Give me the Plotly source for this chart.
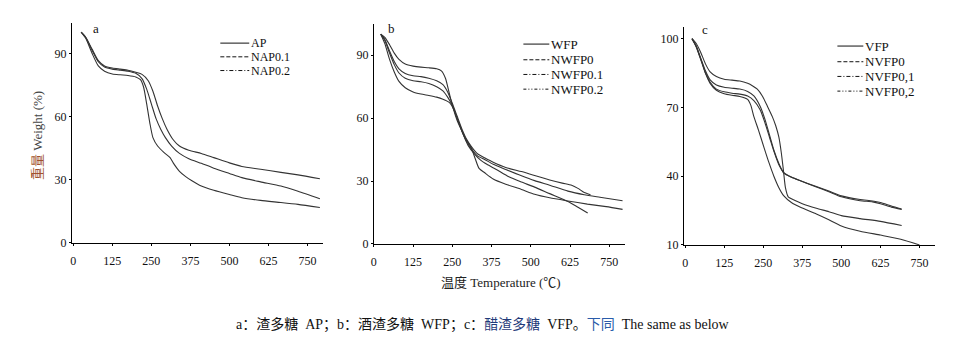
import plotly.graph_objects as go

# ---------------- data ----------------
# Panel a
a_names = ["AP", "NAP0.1", "NAP0.2"]
a_AP_x = [25, 40, 60, 80, 100, 125, 150, 175, 200, 215, 225, 235, 245, 255, 270, 290, 310, 320, 340, 360, 380, 410, 450, 500, 540, 600, 665, 720, 790]
a_AP_y = [100, 97, 90, 84, 81.5, 80.2, 79.8, 79.5, 78.8, 77.5, 74, 66, 57, 50, 46, 43, 40.5, 38, 34, 31.5, 29.5, 27, 25, 23, 21.5, 20.2, 19.2, 18.3, 16.8]
a_NAP01_x = [25, 40, 60, 80, 100, 125, 150, 175, 200, 220, 235, 250, 265, 280, 295, 315, 340, 370, 410, 450, 500, 540, 600, 665, 720, 790]
a_NAP01_y = [100, 97.5, 91.5, 86, 83.5, 82.5, 82, 81.5, 80.5, 78, 73, 66, 59, 54, 50, 46, 42.5, 40, 37.8, 35.5, 33, 31, 29, 27, 24.5, 21]
a_NAP02_x = [25, 40, 60, 80, 100, 125, 150, 175, 200, 220, 240, 255, 270, 285, 300, 320, 340, 370, 410, 450, 500, 540, 600, 665, 720, 790]
a_NAP02_y = [100, 97.5, 92, 86.5, 84, 83, 82.5, 82, 81, 80, 77, 72, 65, 59, 54, 49, 46, 44, 42.5, 40.5, 38, 36.3, 35, 33.5, 32.3, 30.5]

# Panel b
b_names = ["WFP", "NWFP0", "NWFP0.1", "NWFP0.2"]
b_WFP_x = [22, 35, 50, 65, 80, 100, 125, 150, 175, 200, 215, 228, 240, 252, 265, 280, 295, 310, 322, 335, 354, 380, 420, 470, 512, 560, 618, 680, 740, 792]
b_WFP_y = [100, 98.5, 95, 91, 88, 85.8, 84.8, 84.3, 84, 83.5, 82.5, 79, 72, 65, 59, 54, 49.5, 46, 41, 36, 33.8, 31, 28.5, 26, 23.7, 22, 20.5, 19, 17.8, 16.5]
b_NWFP0_x = [22, 35, 50, 65, 80, 100, 125, 150, 175, 200, 220, 235, 250, 265, 280, 295, 310, 330, 354, 380, 420, 470, 512, 560, 600, 630, 650, 670, 690]
b_NWFP0_y = [100, 97.5, 92, 87, 83.5, 81.3, 80.2, 79.8, 79, 77.8, 76, 72.5, 67, 61, 55, 50, 46.5, 43, 41, 39, 36.5, 34.5, 32.6, 30.5, 29, 28, 26.5, 24.5, 23.5]
b_NWFP01_x = [22, 35, 50, 65, 80, 100, 125, 150, 175, 200, 220, 235, 250, 265, 280, 295, 310, 330, 354, 380, 420, 470, 512, 560, 618, 670, 720, 792]
b_NWFP01_y = [100, 97, 91, 85.5, 81.5, 79, 77.8, 77.3, 76.5, 75, 73, 70, 66, 60, 54, 49, 45.5, 42, 40.2, 38, 35.5, 32.5, 30.2, 28, 25.2, 23.5, 22.3, 20.6]
b_NWFP02_x = [22, 35, 50, 65, 80, 100, 125, 150, 175, 200, 220, 240, 255, 270, 285, 300, 320, 340, 360, 390, 430, 470, 512, 560, 618, 650, 681]
b_NWFP02_y = [100, 95.5, 88, 82, 77.5, 74.5, 72.5, 71.5, 70.8, 70, 69, 67.5, 64, 58, 52, 47, 43, 40, 38, 35.5, 32, 29.5, 27.1, 24, 20.3, 17.5, 14.8]

# Panel c
c_names = ["VFP", "NVFP0", "NVFP0,1", "NVFP0,2"]
c_VFP_x = [22, 35, 50, 65, 80, 100, 125, 150, 175, 200, 210, 220, 235, 252, 268, 284, 300, 316, 340, 369, 420, 460, 500, 560, 625, 690, 750]
c_VFP_y = [100, 96.5, 91, 85, 80.5, 77.5, 76, 75.3, 74.8, 73.5, 71, 66, 60, 52.7, 46, 40, 35, 31.4, 28.5, 26.4, 23.5, 21, 18.3, 16, 14.3, 12.5, 10]
c_NVFP0_x = [22, 35, 50, 65, 80, 100, 125, 150, 175, 200, 215, 231, 247, 263, 279, 290, 300, 308, 315, 321, 330, 350, 375, 420, 460, 500, 560, 625, 693]
c_NVFP0_y = [100, 98, 94, 89, 85.5, 83.5, 82.3, 81.9, 81.5, 80.5, 79.5, 78, 75, 70.6, 66, 62, 57, 50, 42, 35, 31, 29.5, 28, 26, 24.5, 22.8, 21.5, 20.3, 18.5]
c_NVFP01_x = [22, 35, 50, 65, 80, 100, 125, 150, 175, 200, 220, 240, 255, 270, 285, 300, 316, 340, 369, 420, 460, 500, 560, 600, 625, 660, 693]
c_NVFP01_y = [100, 97, 91.5, 86, 82, 79.8, 78.8, 78.4, 78, 77, 75, 70.5, 65, 58, 51, 45.5, 41.3, 39.5, 38, 35.5, 33.5, 31.4, 29.8, 29.2, 28.5, 27, 25.7]
c_NVFP02_x = [22, 35, 50, 65, 80, 100, 125, 150, 175, 200, 220, 240, 255, 270, 285, 300, 316, 340, 369, 420, 460, 500, 560, 600, 625, 660, 693]
c_NVFP02_y = [100, 96.8, 91, 85, 81, 78, 76.8, 76.2, 75.8, 75, 73, 69, 63.5, 57, 50.5, 45, 41.5, 39.6, 38, 35.3, 33.2, 31, 29.3, 28.8, 28, 26.5, 25.5]

x_ticks = [0, 125, 250, 375, 500, 625, 750]
ab_y_ticks = [0, 30, 60, 90]
c_y_ticks = [10, 40, 70, 100]
legend_dashes_3 = ["solid", "4px,2px", "4px,2px,1px,2px"]
legend_dashes_4 = ["solid", "4px,2px", "4px,2px,1px,2px", "3px,2px,1px,2px,1px,2px"]

# ---------------- figure ----------------
W, H = 968, 346
FONT = "Liberation Serif, Times New Roman, Noto Sans CJK SC, serif"
LINE = "#333333"

def px(x):
    return x / W

def py(y):
    return 1 - y / H

fig = go.Figure()

panels = [
    ("x", "y", [(a_AP_x, a_AP_y), (a_NAP01_x, a_NAP01_y), (a_NAP02_x, a_NAP02_y)], a_names),
    ("x2", "y2", [(b_WFP_x, b_WFP_y), (b_NWFP0_x, b_NWFP0_y), (b_NWFP01_x, b_NWFP01_y), (b_NWFP02_x, b_NWFP02_y)], b_names),
    ("x3", "y3", [(c_VFP_x, c_VFP_y), (c_NVFP0_x, c_NVFP0_y), (c_NVFP01_x, c_NVFP01_y), (c_NVFP02_x, c_NVFP02_y)], c_names),
]
for xa, ya, series, names in panels:
    for (xs, ys), nm in zip(series, names):
        fig.add_trace(go.Scatter(x=xs, y=ys, mode="lines", name=nm, xaxis=xa, yaxis=ya,
                                 line=dict(color=LINE, width=1.1, shape="spline", smoothing=0.6),
                                 showlegend=False, hoverinfo="skip"))

axis_common = dict(showgrid=False, zeroline=False, showline=True, linecolor="#000", linewidth=1,
                   ticks="outside", ticklen=2, tickcolor="#000",
                   tickfont=dict(family=FONT, size=12, color="#111"))
x_extra = dict(ticklabelstandoff=5)

fig.update_layout(
    width=W, height=H, margin=dict(l=0, r=0, t=0, b=0),
    paper_bgcolor="white", plot_bgcolor="white", showlegend=False,
    xaxis=dict(domain=[px(69), px(321)], range=[-5, 800], tickvals=x_ticks, anchor="y", **axis_common, **x_extra),
    yaxis=dict(domain=[py(248), py(23)], range=[0, 104.6], tickvals=ab_y_ticks, anchor="x", **axis_common),
    xaxis2=dict(domain=[px(372), px(624)], range=[0, 800], tickvals=x_ticks, anchor="y2", **axis_common, **x_extra),
    yaxis2=dict(domain=[py(249), py(24)], range=[0, 105.1], tickvals=ab_y_ticks, anchor="x2", **axis_common),
    xaxis3=dict(domain=[px(683), px(935)], range=[-4, 800], tickvals=x_ticks, anchor="y3", **axis_common, **x_extra),
    yaxis3=dict(domain=[py(250), py(28)], range=[10, 104.9], tickvals=c_y_ticks, anchor="x3", **axis_common),
)

annotations = []
shapes = []

# panel letters
for letter, lx, ly in [("a", 93, 29), ("b", 390, 29), ("c", 704, 30)]:
    annotations.append(dict(text=letter, x=px(lx), y=py(ly), xref="paper", yref="paper",
                            showarrow=False, xanchor="center", yanchor="middle",
                            font=dict(family=FONT, size=13, color="#111")))

# legends (drawn as line samples + labels)
legend_specs = [
    (a_names, legend_dashes_3, 218, 247, [44, 58, 72], 12),
    (b_names, legend_dashes_4, 522, 548, [45, 61, 76, 91], 13),
    (c_names, legend_dashes_4, 837, 863, [47, 63, 78, 93], 13),
]
for names, dashes, x0, x1, rows, fs in legend_specs:
    for nm, dsh, ry in zip(names, dashes, rows):
        shapes.append(dict(type="line", xref="paper", yref="paper", x0=px(x0), x1=px(x1),
                           y0=py(ry), y1=py(ry), line=dict(color="#111", width=1, dash=dsh)))
        annotations.append(dict(text=nm, x=px(x1 + 1), y=py(ry), xref="paper", yref="paper",
                                showarrow=False, xanchor="left", yanchor="middle",
                                borderpad=0, valign="middle",
                                font=dict(family=FONT, size=fs, color="#111")))

# axis titles
annotations.append(dict(text="<span style='color:#a0522d'>重量</span> Weight (%)",
                        x=px(34), y=py(138), xref="paper", yref="paper", textangle=-90,
                        showarrow=False, xanchor="center", yanchor="middle",
                        font=dict(family=FONT, size=13, color="#444")))
annotations.append(dict(text="温度 Temperature (℃)", x=px(500), y=py(288), xref="paper", yref="paper",
                        showarrow=False, xanchor="center", yanchor="middle",
                        font=dict(family=FONT, size=13, color="#222")))
# caption
annotations.append(dict(
    text="a：渣多糖  AP；b：酒渣多糖  WFP；c：<span style='color:#1f3a7a'>醋渣多糖</span>  VFP。"
         "<span style='color:#2a5caa'>下同</span>  The same as below",
    x=px(481), y=py(331), xref="paper", yref="paper", showarrow=False,
    xanchor="center", yanchor="middle", font=dict(family=FONT, size=14, color="#111")))

fig.update_layout(annotations=annotations, shapes=shapes)
fig.write_html("out.html")
